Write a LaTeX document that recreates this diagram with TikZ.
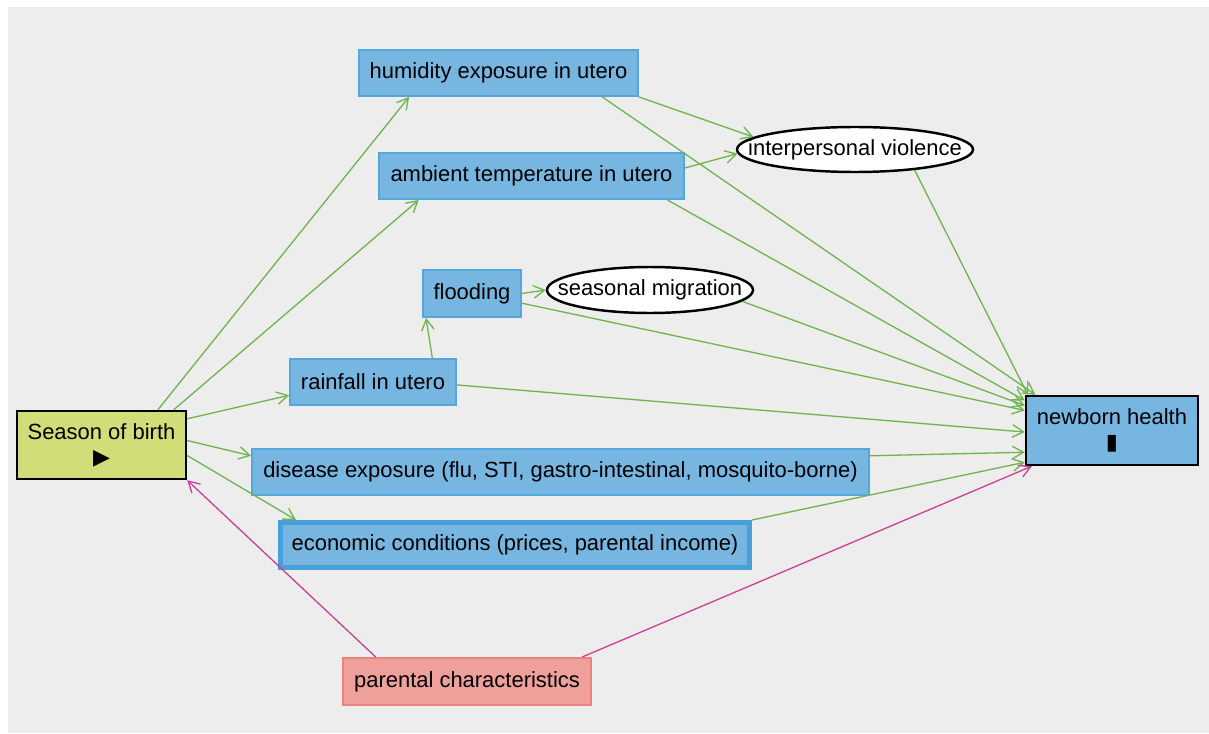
\documentclass[tikz,border=0pt]{standalone}
\usepackage{fontspec}
\setmainfont{Liberation Sans}
\newfontfamily\symfont{DejaVu Sans}
\usetikzlibrary{arrows.meta,shapes.geometric}

\definecolor{bggray}{RGB}{237,237,237}
\definecolor{boxblue}{RGB}{120,182,226}
\definecolor{lineblue}{RGB}{86,166,222}
\definecolor{thickblue}{RGB}{72,160,218}
\definecolor{seasongreen}{RGB}{208,221,120}
\definecolor{parentred}{RGB}{240,160,155}
\definecolor{parentline}{RGB}{236,128,124}
\definecolor{arcgreen}{RGB}{112,180,78}
\definecolor{arcpink}{RGB}{204,64,150}

\tikzset{
  var/.style={rectangle, inner sep=0pt, align=center,
    font=\fontsize{12.5}{14.2}\selectfont},
  bluevar/.style={var, fill=boxblue, draw=lineblue, line width=1.1pt},
  latent/.style={ellipse, inner sep=0pt, fill=white, draw=black,
    line width=1.4pt, font=\fontsize{12.5}{14.2}\selectfont},
  arc/.style={draw=arcgreen, line width=0.75pt,
    -{Straight Barb[length=2.2mm,width=2.5mm]}},
  biasarc/.style={arc, draw=arcpink}
}

\begin{document}
\begin{tikzpicture}[x=0.02cm,y=-0.02cm]
\useasboundingbox (0,0) rectangle (1209,733);
\fill[bggray] (8,7) rectangle (1209,733);

\node[var,
    fill = seasongreen,
    draw = black,
    line width = 1.4pt,
    minimum width = 3.38cm,
    minimum height = 1.36cm]
    (season) at (101.5,445) {Season of birth\\{\symfont ▶}};

\node[var,
    fill = boxblue,
    draw = black,
    line width = 1.4pt,
    minimum width = 3.44cm,
    minimum height = 1.38cm]
    (newborn) at (1112,430.5) {newborn health\\{\symfont ▮}};

\node[bluevar, minimum width=5.58cm, minimum height=0.92cm]
    (humid) at (498.5,73) {humidity exposure in utero};
\node[bluevar, minimum width=6.10cm, minimum height=0.92cm]
    (temp) at (531.5,176) {ambient temperature in utero};
\node[bluevar, minimum width=1.96cm, minimum height=0.94cm]
    (flood) at (472,293.5) {flooding};
\node[bluevar, minimum width=3.32cm, minimum height=0.92cm]
    (rain) at (373,382) {rainfall in utero};
\node[bluevar, minimum width=12.34cm, minimum height=0.92cm]
    (disease) at (560.5,472) {disease exposure (flu, STI, gastro-intestinal, mosquito-borne)};
\node[bluevar, draw=thickblue, line width=0.1cm,
    minimum width=9.38cm, minimum height=0.90cm]
    (econ) at (515,545) {economic conditions (prices, parental income)};

\node[var, fill=parentred, draw=parentline, line width=1.1pt,
    minimum width=4.96cm, minimum height=0.94cm]
    (parent) at (467,681.5) {parental characteristics};

\node[latent, minimum width=4.72cm, minimum height=0.90cm]
    (violence) at (855,149.5) {\makebox[0pt]{interpersonal violence}};
\node[latent, minimum width=4.12cm, minimum height=0.92cm]
    (migrate) at (650,290) {\makebox[0pt]{seasonal migration}};


\draw[arc] (season.32.4) -- (humid.195.2);
\draw[arc] (season.26.4) -- (temp.192);
\draw[arc] (season.17.1) -- (rain.189.1);
\draw[arc] (season.3.4) -- (disease.177.3);
\draw[arc] (season.-7.4) -- ([xshift=0.36cm]econ.north west);

\draw[arc] (humid.south east) -- (violence.173.5);
\draw[arc] (temp.3.7) -- (violence.182.2);
\draw[arc] (humid.-13) -- (newborn.155.6);
\draw[arc] (temp.-10) -- (newborn.161.7);
\draw[arc] (violence.-19.2) -- (newborn.157.2);

\draw[arc] (rain.22.8) -- (flood.208.6);
\draw[arc] (flood.east) -- (migrate.west);
\draw[arc] (flood.-11) -- (newborn.167.9);
\draw[arc] (migrate.-7.6) -- (newborn.164.7);
\draw[arc] (rain.-2) -- (newborn.181);
\draw[arc] (disease.3.7) -- (newborn.194);
\draw[arc] (econ.north east) -- (newborn.200.1);

\draw[biasarc] (parent.165.7) -- (season.south east);
\draw[biasarc] (parent.12) -- (newborn.204);

\end{tikzpicture}
\end{document}
